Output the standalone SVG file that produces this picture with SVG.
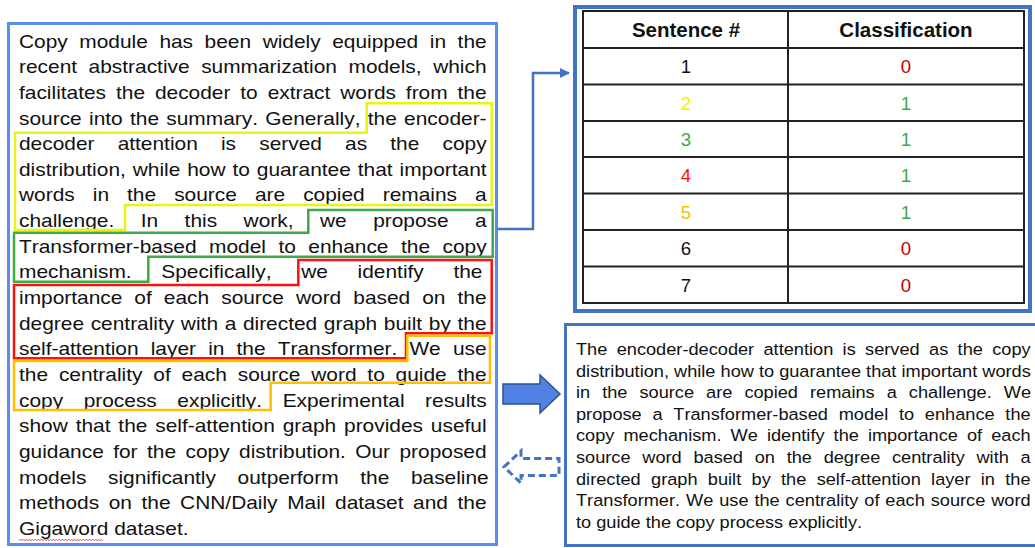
<svg xmlns="http://www.w3.org/2000/svg" width="1035" height="548" viewBox="0 0 1035 548">
  <style>
    .body { font-family: "Liberation Sans", Arial, sans-serif; fill: #111; font-kerning: none; }
    .src { font-size: 18.6px; }
    .sum { font-size: 16.8px; }
    .cell { font-family: "Liberation Sans", Arial, sans-serif; font-size: 18.6px; text-anchor: middle; fill: #111; }
    .head { font-family: "Liberation Sans", Arial, sans-serif; font-size: 20.5px; font-weight: bold; text-anchor: middle; fill: #111; }
    .grid { stroke: #222; stroke-width: 2; fill: none; }
    .hl { fill: none; stroke-width: 2.5; stroke-linejoin: miter; }
    .c-yel { fill: #F2F200; }
    .c-grn { fill: #3DAA4A; }
    .c-red { fill: #FF1010; }
    .c-org { fill: #FFBE00; }
    .c-zero { fill: #C00000; }
  </style>
  <defs>
    <marker id="tip" viewBox="0 0 10 10" refX="9" refY="5" markerWidth="4" markerHeight="4" orient="auto" markerUnits="strokeWidth">
      <path d="M0,0 L10,5 L0,10 z" fill="#4472C4"/>
    </marker>
  </defs>

  <rect width="1035" height="548" fill="#fff"/>

  <!-- source abstract -->
  <g id="abstract">
    <rect x="8.5" y="23.5" width="488" height="521" fill="#fff" stroke="#5A8EEE" stroke-width="3"/>
    <g transform="translate(19 0) scale(1.124 1)" class="body src">
      <text x="0" y="47.6" style="word-spacing:5.13px">Copy module has been widely equipped in the</text>
      <text x="0" y="73.25" style="word-spacing:5.12px">recent abstractive summarization models, which</text>
      <text x="0" y="98.9" style="word-spacing:3.66px">facilitates the decoder to extract words from the</text>
      <text x="0" y="124.55" style="word-spacing:1.34px">source into the summary. Generally, the encoder-</text>
      <text x="0" y="150.2" style="word-spacing:15.46px">decoder attention is served as the copy</text>
      <text x="0" y="175.85" style="word-spacing:0.99px">distribution, while how to guarantee that important</text>
      <text x="0" y="201.5" style="word-spacing:10.9px">words in the source are copied remains a</text>
      <text x="0" y="227.15" style="word-spacing:18.4px">challenge. In this work, we propose a</text>
      <text x="0" y="252.8" style="word-spacing:5.95px">Transformer-based model to enhance the copy</text>
      <text x="0" y="278.45" style="word-spacing:21.25px">mechanism. Specifically, we identify the</text>
      <text x="0" y="304.1" style="word-spacing:5.57px">importance of each source word based on the</text>
      <text x="0" y="329.75" style="word-spacing:0.74px">degree centrality with a directed graph built by the</text>
      <text x="0" y="355.4" style="word-spacing:5.65px">self-attention layer in the Transformer. We use</text>
      <text x="0" y="381.05" style="word-spacing:4.49px">the centrality of each source word to guide the</text>
      <text x="0" y="406.7" style="word-spacing:13.13px">copy process explicitly. Experimental results</text>
      <text x="0" y="432.35" style="word-spacing:1.85px">show that the self-attention graph provides useful</text>
      <text x="0" y="458" style="word-spacing:3.23px">guidance for the copy distribution. Our proposed</text>
      <text x="0" y="483.65" style="word-spacing:14.11px">models significantly outperform the baseline</text>
      <text x="0" y="509.3" style="word-spacing:3.36px">methods on the CNN/Daily Mail dataset and the</text>
      <text x="0" y="534.95">Gigaword dataset.</text>
    </g>
    <!-- spell-check squiggle -->
    <path d="M19 540.5 l1.5-1 1.5 1 1.5-1 1.5 1 1.5-1 1.5 1 1.5-1 1.5 1 1.5-1 1.5 1 1.5-1 1.5 1 1.5-1 1.5 1 1.5-1 1.5 1 1.5-1 1.5 1 1.5-1 1.5 1 1.5-1 1.5 1 1.5-1 1.5 1 1.5-1 1.5 1 1.5-1 1.5 1 1.5-1 1.5 1 1.5-1 1.5 1 1.5-1 1.5 1 1.5-1 1.5 1 1.5-1 1.5 1 1.5-1 1.5 1 1.5-1 1.5 1 1.5-1 1.5 1 1.5-1 1.5 1 1.5-1 1.5 1 1.5-1 1.5 1 1.5-1 1.5 1 1.5-1 1.5 1 1.5-1 1.5 1" fill="none" stroke="#E03A3A" stroke-width="0.9"/>
    <!-- sentence highlights -->
    <polygon class="hl" stroke="#ECF214" points="366.7,103.3 491.7,103.3 491.7,205 125,205 125,230 15,230 15,132.7 366.7,132.7"/>
    <polygon class="hl" stroke="#3DAA4A" points="308.3,210 492.7,210 492.7,256.7 148.3,256.7 148.3,281.7 14,281.7 14,232.7 308.3,232.7"/>
    <polygon class="hl" stroke="#FF1010" points="298.3,260 491.7,260 491.7,333.3 406,333.3 406,358.3 14,358.3 14,285 298.3,285"/>
    <polygon class="hl" stroke="#FFBE00" points="407.3,335.7 490,335.7 490,382.7 270.7,382.7 270.7,410 14,410 14,361 407.3,361"/>
  </g>

  <!-- sentence classification table -->
  <g id="table">
    <rect x="575" y="7" width="455" height="304" fill="#fff" stroke="#4472C4" stroke-width="4"/>
    <rect class="grid" x="583" y="11" width="441" height="292"/>
    <path class="grid" d="M788 11 V303 M583 48 H1024 M583 84.5 H1024 M583 121 H1024 M583 157 H1024 M583 193.5 H1024 M583 230 H1024 M583 266.5 H1024"/>
    <text class="head" x="686" y="36.7">Sentence #</text>
    <text class="head" x="906" y="36.7">Classification</text>
    <text class="cell" x="686" y="73">1</text>
    <text class="cell c-zero" x="906" y="73">0</text>
    <text class="cell c-yel" x="686" y="109.5">2</text>
    <text class="cell c-grn" x="906" y="109.5">1</text>
    <text class="cell c-grn" x="686" y="145.7">3</text>
    <text class="cell c-grn" x="906" y="145.7">1</text>
    <text class="cell c-red" x="686" y="182">4</text>
    <text class="cell c-grn" x="906" y="182">1</text>
    <text class="cell c-org" x="686" y="218.5">5</text>
    <text class="cell c-grn" x="906" y="218.5">1</text>
    <text class="cell" x="686" y="255">6</text>
    <text class="cell c-zero" x="906" y="255">0</text>
    <text class="cell" x="686" y="291.5">7</text>
    <text class="cell c-zero" x="906" y="291.5">0</text>
  </g>

  <!-- extracted summary -->
  <g id="summary">
    <rect x="565.5" y="324.5" width="480" height="221" fill="#fff" stroke="#4472C4" stroke-width="3"/>
    <g transform="translate(576 0) scale(1.083 1)" class="body sum">
      <text x="0" y="355" style="word-spacing:3.97px">The encoder-decoder attention is served as the copy</text>
      <text x="0" y="376.6">distribution, while how to guarantee that important words</text>
      <text x="0" y="398.2" style="word-spacing:6.44px">in the source are copied remains a challenge. We</text>
      <text x="0" y="419.8" style="word-spacing:5.26px">propose a Transformer-based model to enhance the</text>
      <text x="0" y="441.4" style="word-spacing:3.71px">copy mechanism. We identify the importance of each</text>
      <text x="0" y="463" style="word-spacing:6.16px">source word based on the degree centrality with a</text>
      <text x="0" y="484.6" style="word-spacing:4.87px">directed graph built by the self-attention layer in the</text>
      <text x="0" y="506.2" style="word-spacing:0.8px">Transformer. We use the centrality of each source word</text>
      <text x="0" y="527.8">to guide the copy process explicitly.</text>
    </g>
  </g>

  <!-- connectors -->
  <g id="connectors">
    <path d="M497 229 H533 V73 H569" fill="none" stroke="#4472C4" stroke-width="2.5" marker-end="url(#tip)"/>
    <polygon points="503,384 540,384 540,375 560,394 540,413 540,404 503,404" fill="#4F82E2" stroke="#2F528F" stroke-width="1.5"/>
    <polygon points="504,467 521,451 521,458.5 559,458.5 559,475.5 521,475.5 521,483" fill="#fff" stroke="#4472C4" stroke-width="3" stroke-dasharray="7 4"/>
  </g>
</svg>
